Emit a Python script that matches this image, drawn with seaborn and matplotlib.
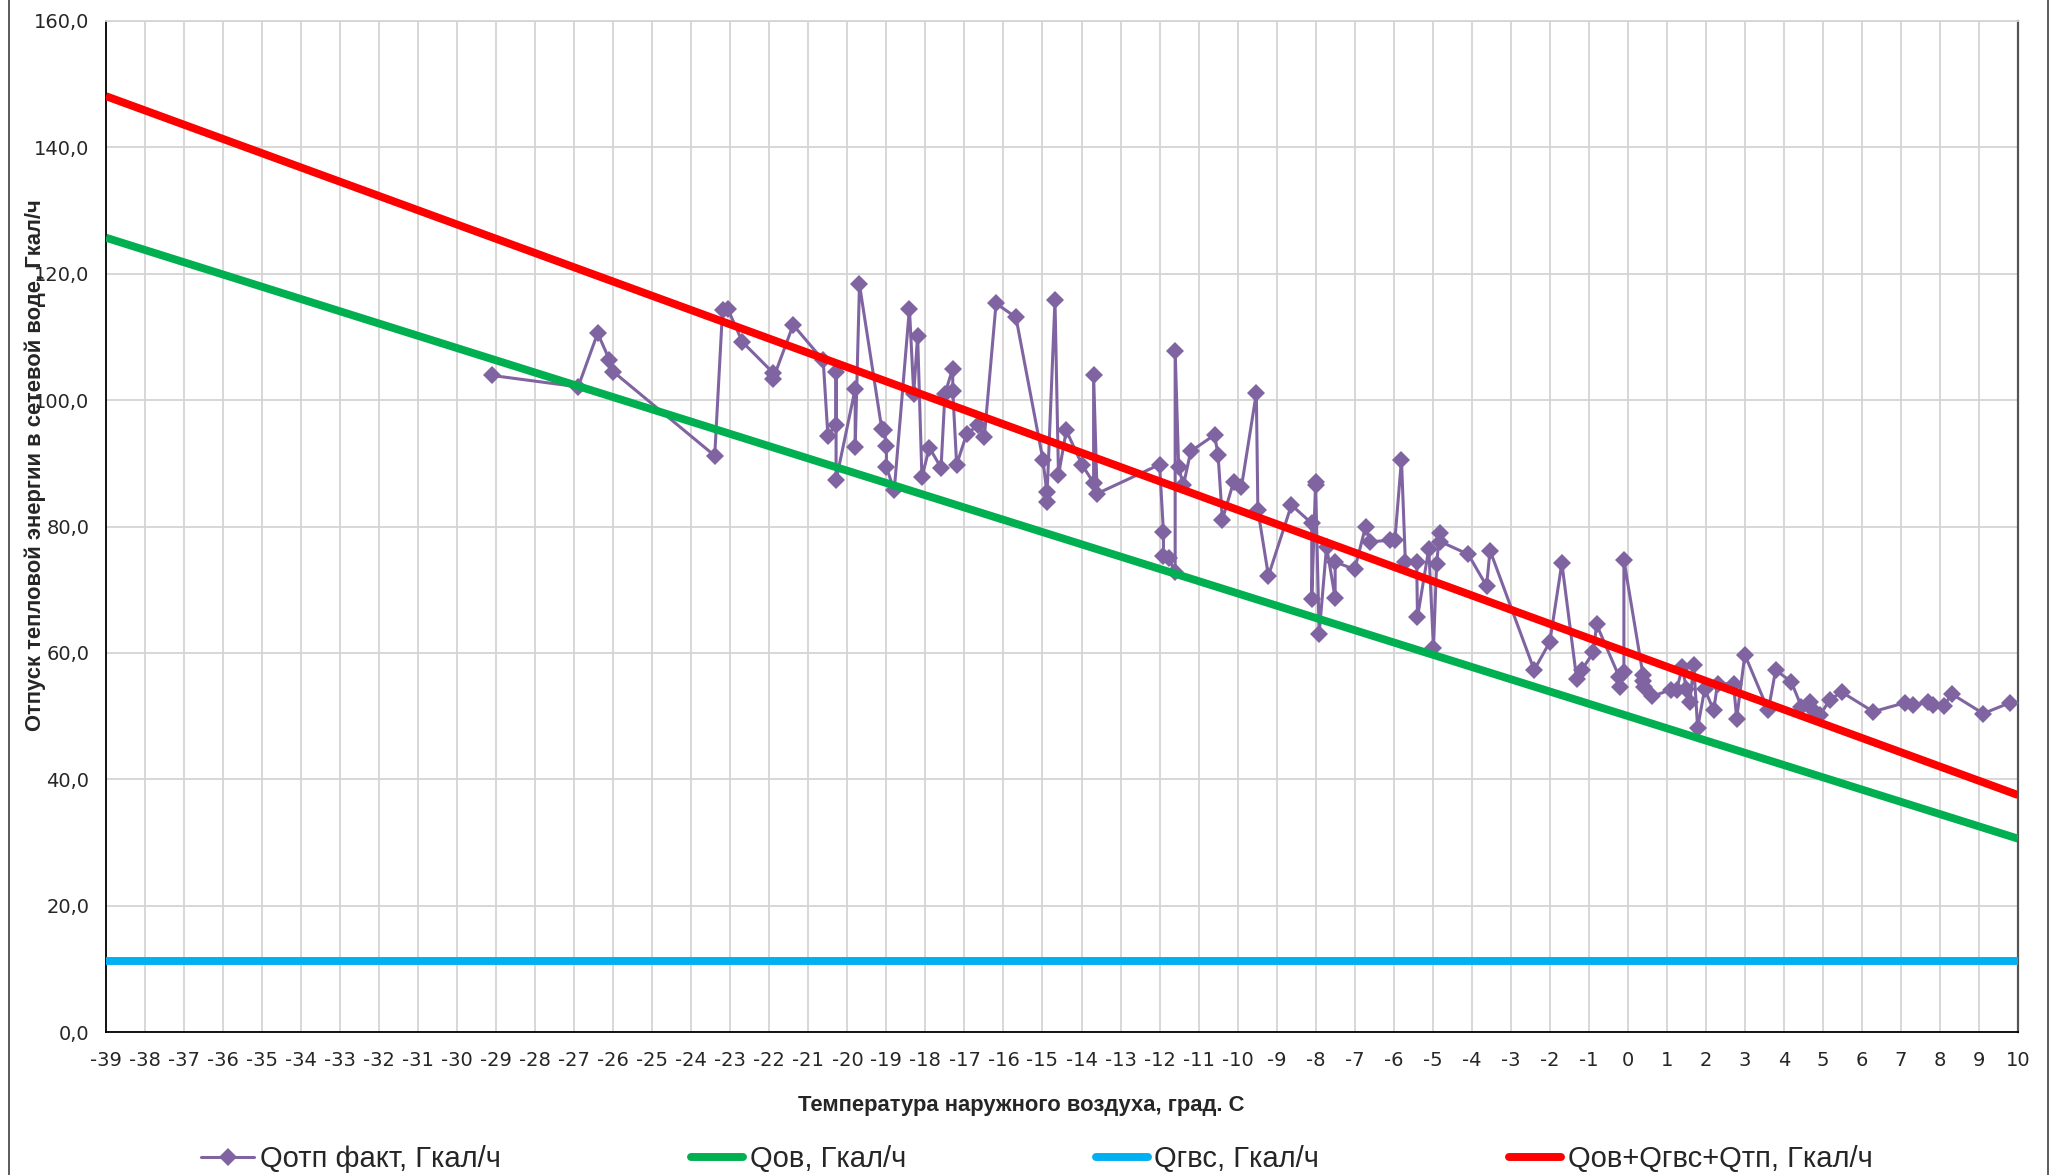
import matplotlib
matplotlib.use("Agg")
import matplotlib.pyplot as plt
from matplotlib.lines import Line2D
from matplotlib.ticker import MultipleLocator, FuncFormatter
import seaborn as sns
import pandas as pd

# measured points: outdoor temperature vs actual heat output (in chart order)
temp_fact = [-29.1, -26.9, -26.4, -26.1, -26.0, -23.4, -23.2, -23.07, -22.69, -21.9,
             -21.9, -21.39, -20.62, -20.5, -20.29, -20.29, -20.29, -19.8, -19.8, -19.69,
             -19.12, -19.05, -19.0, -19.0, -18.8, -18.41, -18.3, -18.2, -18.09, -17.9,
             -17.6, -17.5, -17.3, -17.3, -17.2, -16.94, -16.65, -16.49, -16.19, -15.68,
             -14.99, -14.89, -14.89, -14.68, -14.59, -14.39, -13.99, -13.69, -13.69, -13.6,
             -12.0, -11.9, -11.9, -11.77, -11.6, -11.6, -11.51, -11.39, -11.2, -10.59,
             -10.5, -10.39, -10.1, -9.9, -9.52, -9.48, -9.21, -8.62, -8.1, -8.1,
             -8.0, -8.0, -7.91, -7.72, -7.5, -7.5, -7.0, -6.72, -6.6, -6.1,
             -5.97, -5.8, -5.7, -5.41, -5.39, -5.1, -4.98, -4.9, -4.82, -4.8,
             -4.09, -3.62, -3.53, -2.4, -2.0, -1.69, -1.31, -1.18, -0.88, -0.8,
             -0.22, -0.21, -0.1, -0.1, 0.39, 0.39, 0.41, 0.61, 1.12, 1.25,
             1.4, 1.5, 1.59, 1.69, 1.79, 1.97, 2.2, 2.3, 2.71, 2.79,
             3.0, 3.6, 3.79, 4.19, 4.45, 4.67, 4.75, 4.92, 5.18, 5.48,
             6.29, 7.1, 7.3, 7.7, 7.81, 8.1, 8.3, 9.11, 9.79, 10.4]
q_fact = [103.9, 102.1, 110.6, 106.4, 104.5, 91.2, 114.2, 114.5, 109.2, 104.3,
          103.4, 111.9, 106.3, 94.4, 96.1, 104.4, 87.3, 101.8, 92.6, 118.3,
          95.5, 95.2, 92.8, 89.4, 85.7, 114.5, 101.0, 110.2, 87.8, 92.5,
          89.3, 101.0, 105.0, 101.5, 89.8, 94.7, 96.0, 94.2, 115.3, 113.1,
          90.6, 85.5, 83.9, 115.8, 88.1, 95.2, 89.8, 86.9, 103.9, 85.2,
          89.8, 79.1, 75.4, 75.0, 72.8, 107.8, 89.4, 86.5, 91.9, 94.5,
          91.3, 81.1, 87.1, 86.3, 101.1, 82.6, 72.2, 83.4, 80.5, 68.5,
          87.1, 86.6, 63.0, 76.8, 68.7, 74.4, 73.2, 80.0, 77.6, 77.8,
          77.8, 90.6, 74.4, 74.4, 65.6, 76.5, 60.7, 74.1, 79.0, 77.6,
          75.6, 70.6, 76.2, 57.3, 61.7, 74.2, 55.9, 57.3, 60.1, 64.5,
          56.2, 54.6, 57.0, 74.7, 56.5, 55.6, 54.6, 53.1, 54.2, 54.2,
          57.7, 54.3, 52.2, 58.1, 48.1, 54.3, 50.9, 55.1, 55.1, 49.6,
          59.7, 50.9, 57.3, 55.4, 51.5, 52.2, 50.9, 50.1, 52.6, 53.8,
          50.7, 52.1, 51.7, 52.2, 51.7, 51.6, 53.5, 50.4, 52.1, 51.9]

# design lines (end points)
temp_line = [-39, 10]
q_ov = [125.7, 30.6]
q_gvs = [11.2, 11.2]
q_sum = [148.1, 37.5]

x_ticks = list(range(-39, 11))
y_ticks = list(range(0, 161, 20))

series_names = ["Qотп факт, Гкал/ч", "Qов, Гкал/ч", "Qгвс, Гкал/ч", "Qов+Qгвс+Qтп, Гкал/ч"]
colors = ["#8064A2", "#00B050", "#00B0F0", "#FF0000"]

fact = pd.DataFrame({"t": temp_fact, "q": q_fact})
design = pd.DataFrame({"t": temp_line, "ov": q_ov, "gvs": q_gvs, "sum": q_sum})

sns.set_style("white")
plt.rcParams['font.family'] = ['Liberation Sans', 'DejaVu Sans']
plt.rcParams['axes.unicode_minus'] = False

W, H = 2055, 1175
fig = plt.figure(figsize=(W / 100, H / 100), dpi=100)
ax = fig.add_axes([106 / W, 1 - 1032 / H, (2018 - 106) / W, (1032 - 21) / H])

sns.lineplot(data=fact, x="t", y="q", sort=False, estimator=None, ax=ax,
             color=colors[0], lw=2.2, marker="D", markersize=9.5, markeredgewidth=0,
             zorder=3, legend=False)
for col, c in zip(["ov", "gvs", "sum"], colors[1:]):
    sns.lineplot(data=design, x="t", y=col, ax=ax, color=c, lw=5.7,
                 estimator=None, zorder=4, legend=False, solid_capstyle="butt")

ax.set_xlim(-39, 10)
ax.set_ylim(0, 160)
ax.set_xticks(x_ticks)
ax.set_yticks(y_ticks)
ax.yaxis.set_minor_locator(MultipleLocator(4))
ax.yaxis.set_major_formatter(FuncFormatter(lambda v, p: f"{v:.1f}".replace(".", ",")))
ax.tick_params(axis="both", which="major", labelsize=14, direction="out", length=6,
               width=1.2, color="black", pad=6)
ax.tick_params(axis="y", which="minor", direction="out", length=6, width=1.2, color="black")
ax.tick_params(axis="x", pad=8)
for lab in ax.get_xticklabels() + ax.get_yticklabels():
    lab.set_family("DejaVu Sans")
ax.set_xlabel("")
ax.set_ylabel("")

ax.grid(True, which="major", color="#d4d4d4", lw=1.3, zorder=0)
ax.set_axisbelow(True)
for s in ["left", "bottom"]:
    ax.spines[s].set_color("black")
    ax.spines[s].set_linewidth(1.3)
ax.spines["right"].set_color("#555555")
ax.spines["right"].set_linewidth(1.6)
ax.spines["top"].set_color("#d4d4d4")
ax.spines["top"].set_linewidth(1.3)

fig.text(1021 / W, 1 - 1105 / H, "Температура наружного воздуха, град. С",
         ha="center", va="center", fontsize=15.8, fontweight="bold")
fig.text(35 / W, 1 - 465 / H, "Отпуск тепловой энергии в сетевой воде, Гкал/ч",
         ha="center", va="center", rotation=90, fontsize=15.8, fontweight="bold")

handles = [Line2D([], [], color=colors[0], lw=2.2, marker="D", markersize=9.5, markeredgewidth=0)]
handles += [Line2D([], [], color=c, lw=5.7) for c in colors[1:]]
fig.legend(handles, series_names, loc="center", bbox_to_anchor=(1037 / W, 1 - 1159 / H),
           ncol=4, frameon=False, fontsize=21, handlelength=1.8, handletextpad=0.22,
           columnspacing=6.5, borderaxespad=0)

# outer chart frame
fig.add_artist(Line2D([9 / W, 9 / W], [0, 1], color="#404040", lw=1.2))
fig.add_artist(Line2D([2048 / W, 2048 / W], [0, 1], color="#404040", lw=1.2))

fig.savefig("out.png", dpi=100)
